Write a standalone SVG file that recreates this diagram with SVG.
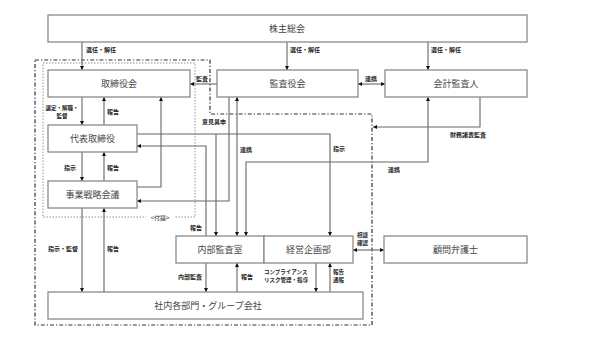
<svg xmlns="http://www.w3.org/2000/svg" width="600" height="337" viewBox="0 0 600 337">
<style>
.box{fill:#fff;stroke:#8a8a8a;stroke-width:1.3}
.bt{font-family:"Noto Sans CJK JP","Noto Sans CJK SC",sans-serif;font-size:9px;fill:#444;text-anchor:middle;dominant-baseline:central}
.lt{font-family:"Noto Sans CJK JP","Noto Sans CJK SC",sans-serif;font-size:6px;fill:#222;font-weight:bold;dominant-baseline:central}
.sm{font-size:5.5px}
.c{fill:none;stroke:#666;stroke-width:1.1}
.dd{fill:none;stroke:#333;stroke-width:1.2;stroke-dasharray:4 2 1.2 2}
.dot{fill:none;stroke:#777;stroke-width:0.8;stroke-dasharray:1.5 1.5}
</style>
<defs>
<marker id="a" viewBox="0 0 6 6" refX="6" refY="3" markerWidth="4" markerHeight="4" orient="auto-start-reverse" markerUnits="userSpaceOnUse"><path d="M0,0L6,3L0,6z" fill="#111"/></marker>
</defs>
<rect width="600" height="337" fill="#fff"/>
<g id="boundaries">
<path class="dd" d="M35,60H210V114H372V325H35Z"/>
<rect class="dot" x="43" y="63" width="152" height="154"/>
<rect x="146" y="213" width="28" height="8" fill="#fff"/>
<text class="lt" x="160" y="217" text-anchor="middle" style="font-weight:normal">&lt;付議&gt;</text>
</g>
<g id="connectors">
<path class="c" d="M82,42V70" marker-end="url(#a)"/>
<path class="c" d="M287,42V70" marker-end="url(#a)"/>
<path class="c" d="M428,42V70" marker-end="url(#a)"/>
<path class="c" d="M217,84H190" marker-end="url(#a)"/>
<path class="c" d="M358,84H385" marker-start="url(#a)" marker-end="url(#a)"/>
<path class="c" d="M82,97V125" marker-end="url(#a)"/>
<path class="c" d="M104,125V97" marker-end="url(#a)"/>
<path class="c" d="M82,152V181" marker-end="url(#a)"/>
<path class="c" d="M104,181V152" marker-end="url(#a)"/>
<path class="c" d="M137,187H161V97" marker-end="url(#a)"/>
<path class="c" d="M137,134H330V236" marker-end="url(#a)"/>
<path class="c" d="M216,134V236" marker-end="url(#a)"/>
<path class="c" d="M206,236V146H137" marker-end="url(#a)"/>
<path class="c" d="M229,97V201H137" marker-end="url(#a)"/>
<path class="c" d="M237,97V236" marker-start="url(#a)" marker-end="url(#a)"/>
<path class="c" d="M428,97V162H246V236" marker-start="url(#a)" marker-end="url(#a)"/>
<path class="c" d="M480,97V127H373" marker-end="url(#a)"/>
<path class="c" d="M82,208V292" marker-end="url(#a)"/>
<path class="c" d="M104,292V208" marker-end="url(#a)"/>
<path class="c" d="M206,263V292" marker-end="url(#a)"/>
<path class="c" d="M237,292V263" marker-end="url(#a)"/>
<path class="c" d="M316,263V292" marker-end="url(#a)"/>
<path class="c" d="M330,292V263" marker-end="url(#a)"/>
<path class="c" d="M353,250H384" marker-start="url(#a)" marker-end="url(#a)"/>
<text class="lt" x="86" y="49">選任・解任</text>
<text class="lt" x="290" y="49">選任・解任</text>
<text class="lt" x="431" y="49">選任・解任</text>
<text class="lt" x="196" y="78">監査</text>
<text class="lt" x="365" y="78">連携</text>
<text class="lt sm" x="62" y="108" text-anchor="middle">選定・解職・</text>
<text class="lt sm" x="62" y="116" text-anchor="middle">監督</text>
<text class="lt" x="107" y="111">報告</text>
<text class="lt" x="64" y="167">指示</text>
<text class="lt" x="107" y="167">報告</text>
<text class="lt" x="202" y="121">意見具申</text>
<text class="lt" x="240" y="149">連携</text>
<text class="lt" x="333" y="148">指示</text>
<text class="lt" x="388" y="169">連携</text>
<text class="lt" x="450" y="134">財務諸表監査</text>
<text class="lt" x="190" y="227">報告</text>
<text class="lt sm" x="357" y="235">相談</text>
<text class="lt sm" x="357" y="243">確認</text>
<text class="lt" x="48" y="248">指示・監督</text>
<text class="lt" x="107" y="248">報告</text>
<text class="lt" x="178" y="276">内部監査</text>
<text class="lt" x="241" y="276">報告</text>
<text class="lt sm" x="264" y="272">コンプライアンス</text>
<text class="lt sm" x="264" y="280">リスク管理・指導</text>
<text class="lt sm" x="333" y="272">報告</text>
<text class="lt sm" x="333" y="280">通報</text>
</g>
<g id="n-shareholders"><rect class="box" x="48" y="15" width="479" height="27"/><text class="bt" x="287" y="28.5">株主総会</text></g>
<g id="n-board"><rect class="box" x="48" y="70" width="142" height="27"/><text class="bt" x="119" y="83.5">取締役会</text></g>
<g id="n-auditors"><rect class="box" x="217" y="70" width="141" height="27"/><text class="bt" x="287.5" y="83.5">監査役会</text></g>
<g id="n-accounting"><rect class="box" x="385" y="70" width="142" height="27"/><text class="bt" x="456" y="83.5">会計監査人</text></g>
<g id="n-ceo"><rect class="box" x="48" y="125" width="89" height="27"/><text class="bt" x="92.5" y="138.5">代表取締役</text></g>
<g id="n-strategy"><rect class="box" x="48" y="181" width="89" height="27"/><text class="bt" x="92.5" y="194.5">事業戦略会議</text></g>
<g id="n-internal-audit"><rect class="box" x="176" y="236" width="88" height="27"/><text class="bt" x="220" y="249.5">内部監査室</text></g>
<g id="n-planning"><rect class="box" x="264" y="236" width="89" height="27"/><text class="bt" x="308.5" y="249.5">経営企画部</text></g>
<g id="n-lawyer"><rect class="box" x="384" y="236" width="143" height="27"/><text class="bt" x="455.5" y="249.5">顧問弁護士</text></g>
<g id="n-divisions"><rect class="box" x="48" y="292" width="315" height="27"/><text class="bt" x="208" y="305.5">社内各部門・グループ会社</text></g>
</svg>
